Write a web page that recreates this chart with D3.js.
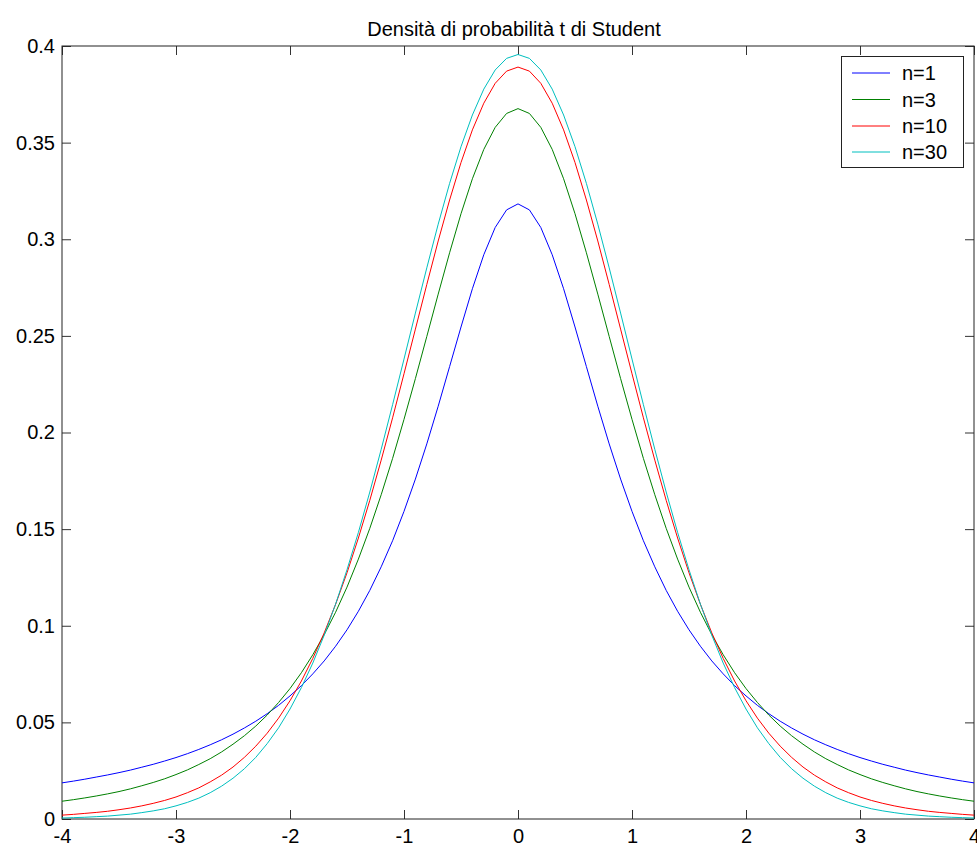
<!DOCTYPE html>
<html>
<head>
<meta charset="utf-8">
<script src="https://cdn.jsdelivr.net/npm/d3@7"></script>
<style>
  html, body { margin: 0; padding: 0; background: #fff; }
  svg { display: block; }
  text { font-family: "Liberation Sans", Arial, sans-serif; }
</style>
</head>
<body>
<svg id="chart" width="977" height="848"></svg>
<script>
// ---- data ----
const title = "Densità di probabilità t di Student";
const tValues = [-4.0,-3.9,-3.8,-3.7,-3.6,-3.5,-3.4,-3.3,-3.2,-3.1,-3.0,-2.9,-2.8,-2.7,-2.6,-2.5,-2.4,-2.3,-2.2,-2.1,-2.0,-1.9,-1.8,-1.7,-1.6,-1.5,-1.4,-1.3,-1.2,-1.1,-1.0,-0.9,-0.8,-0.7,-0.6,-0.5,-0.4,-0.3,-0.2,-0.1,0.0,0.1,0.2,0.3,0.4,0.5,0.6,0.7,0.8,0.9,1.0,1.1,1.2,1.3,1.4,1.5,1.6,1.7,1.8,1.9,2.0,2.1,2.2,2.3,2.4,2.5,2.6,2.7,2.8,2.9,3.0,3.1,3.2,3.3,3.4,3.5,3.6,3.7,3.8,3.9,4.0];
const seriesNames = ["n=1", "n=3", "n=10", "n=30"];
const n1 = [0.0187,0.0196,0.0206,0.0217,0.0228,0.0240,0.0253,0.0268,0.0283,0.0300,0.0318,0.0338,0.0360,0.0384,0.0410,0.0439,0.0471,0.0506,0.0545,0.0588,0.0637,0.0690,0.0751,0.0818,0.0894,0.0979,0.1075,0.1183,0.1305,0.1440,0.1592,0.1759,0.1941,0.2136,0.2341,0.2546,0.2744,0.2920,0.3061,0.3152,0.3183,0.3152,0.3061,0.2920,0.2744,0.2546,0.2341,0.2136,0.1941,0.1759,0.1592,0.1440,0.1305,0.1183,0.1075,0.0979,0.0894,0.0818,0.0751,0.0690,0.0637,0.0588,0.0545,0.0506,0.0471,0.0439,0.0410,0.0384,0.0360,0.0338,0.0318,0.0300,0.0283,0.0268,0.0253,0.0240,0.0228,0.0217,0.0206,0.0196,0.0187];
const n3 = [0.0092,0.0100,0.0109,0.0119,0.0130,0.0142,0.0156,0.0172,0.0189,0.0208,0.0230,0.0254,0.0282,0.0312,0.0347,0.0387,0.0431,0.0481,0.0538,0.0603,0.0675,0.0757,0.0850,0.0954,0.1070,0.1200,0.1345,0.1504,0.1678,0.1866,0.2068,0.2279,0.2497,0.2716,0.2930,0.3132,0.3313,0.3465,0.3579,0.3651,0.3676,0.3651,0.3579,0.3465,0.3313,0.3132,0.2930,0.2716,0.2497,0.2279,0.2068,0.1866,0.1678,0.1504,0.1345,0.1200,0.1070,0.0954,0.0850,0.0757,0.0675,0.0603,0.0538,0.0481,0.0431,0.0387,0.0347,0.0312,0.0282,0.0254,0.0230,0.0208,0.0189,0.0172,0.0156,0.0142,0.0130,0.0119,0.0109,0.0100,0.0092];
const n10 = [0.0020,0.0024,0.0029,0.0034,0.0040,0.0048,0.0057,0.0068,0.0081,0.0096,0.0114,0.0136,0.0161,0.0192,0.0227,0.0269,0.0319,0.0377,0.0444,0.0522,0.0612,0.0714,0.0831,0.0963,0.1111,0.1274,0.1454,0.1649,0.1857,0.2076,0.2304,0.2535,0.2766,0.2991,0.3203,0.3397,0.3566,0.3704,0.3807,0.3870,0.3891,0.3870,0.3807,0.3704,0.3566,0.3397,0.3203,0.2991,0.2766,0.2535,0.2304,0.2076,0.1857,0.1649,0.1454,0.1274,0.1111,0.0963,0.0831,0.0714,0.0612,0.0522,0.0444,0.0377,0.0319,0.0269,0.0227,0.0192,0.0161,0.0136,0.0114,0.0096,0.0081,0.0068,0.0057,0.0048,0.0040,0.0034,0.0029,0.0024,0.0020];
const n30 = [0.0005,0.0007,0.0009,0.0012,0.0015,0.0020,0.0025,0.0033,0.0042,0.0053,0.0068,0.0086,0.0108,0.0136,0.0170,0.0211,0.0260,0.0319,0.0390,0.0472,0.0569,0.0680,0.0807,0.0951,0.1112,0.1290,0.1483,0.1692,0.1913,0.2144,0.2380,0.2618,0.2852,0.3078,0.3289,0.3479,0.3643,0.3777,0.3876,0.3936,0.3956,0.3936,0.3876,0.3777,0.3643,0.3479,0.3289,0.3078,0.2852,0.2618,0.2380,0.2144,0.1913,0.1692,0.1483,0.1290,0.1112,0.0951,0.0807,0.0680,0.0569,0.0472,0.0390,0.0319,0.0260,0.0211,0.0170,0.0136,0.0108,0.0086,0.0068,0.0053,0.0042,0.0033,0.0025,0.0020,0.0015,0.0012,0.0009,0.0007,0.0005];
const xTicks = [-4, -3, -2, -1, 0, 1, 2, 3, 4];
const xTickLabels = ["-4", "-3", "-2", "-1", "0", "1", "2", "3", "4"];
const yTicks = [0, 0.05, 0.1, 0.15, 0.2, 0.25, 0.3, 0.35, 0.4];
const yTickLabels = ["0", "0.05", "0.1", "0.15", "0.2", "0.25", "0.3", "0.35", "0.4"];
const colors = ["#0000ff", "#008000", "#ff0000", "#00bfbf"];

// ---- layout ----
const plotL = 62, plotR = 974, plotT = 46, plotB = 819;
const svg = d3.select("#chart");
const x = d3.scaleLinear().domain([-4, 4]).range([plotL, plotR]);
const y = d3.scaleLinear().domain([0, 0.4]).range([plotB, plotT]);

const seriesData = [n1, n3, n10, n30];

const tickLen = 9;
const fontSize = "20px";

const gx = svg.append("g").attr("transform", `translate(0,${plotB})`)
  .call(d3.axisBottom(x).tickValues(xTicks).tickSize(-tickLen).tickPadding(10).tickFormat((d, i) => xTickLabels[i]));
const gxt = svg.append("g").attr("transform", `translate(0,${plotT})`)
  .call(d3.axisTop(x).tickValues(xTicks).tickSize(-tickLen).tickFormat(""));
const gy = svg.append("g").attr("transform", `translate(${plotL},0)`)
  .call(d3.axisLeft(y).tickValues(yTicks).tickSize(-tickLen).tickPadding(7).tickFormat((d, i) => yTickLabels[i]));
const gyr = svg.append("g").attr("transform", `translate(${plotR},0)`)
  .call(d3.axisRight(y).tickValues(yTicks).tickSize(-tickLen).tickFormat(""));

[gx, gxt, gy, gyr].forEach(g => {
  g.select(".domain").remove();
  g.selectAll(".tick line").attr("stroke", "#333").attr("stroke-width", 1);
  g.selectAll(".tick text").attr("fill", "#000").style("font-size", fontSize)
    .style("font-family", "'Liberation Sans', Arial, sans-serif");
});

svg.append("rect")
  .attr("x", plotL).attr("y", plotT)
  .attr("width", plotR - plotL).attr("height", plotB - plotT)
  .attr("fill", "none").attr("stroke", "#222").attr("stroke-width", 1);

// lines
const line = d3.line().x((d, i) => x(tValues[i])).y(d => y(d));
seriesData.forEach((s, k) => {
  svg.append("path")
    .datum(s)
    .attr("d", line)
    .attr("fill", "none")
    .attr("stroke", colors[k])
    .attr("stroke-width", 1);
});

// title
svg.append("text")
  .attr("x", (plotL + plotR) / 2 - 4)
  .attr("y", 36)
  .attr("text-anchor", "middle")
  .style("font-size", fontSize)
  .attr("fill", "#000")
  .text(title);

// legend
const lg = svg.append("g");
lg.append("rect")
  .attr("x", 841.5).attr("y", 56.5)
  .attr("width", 122).attr("height", 111)
  .attr("fill", "#fff").attr("stroke", "#222").attr("stroke-width", 1);
const rowY = [73, 99.5, 126, 152];
seriesNames.forEach((name, k) => {
  lg.append("line")
    .attr("x1", 852).attr("x2", 890)
    .attr("y1", rowY[k]).attr("y2", rowY[k])
    .attr("stroke", colors[k]).attr("stroke-width", 1);
  lg.append("text")
    .attr("x", 902).attr("y", rowY[k] + 7)
    .style("font-size", fontSize)
    .attr("fill", "#000")
    .text(name);
});
</script>
</body>
</html>
